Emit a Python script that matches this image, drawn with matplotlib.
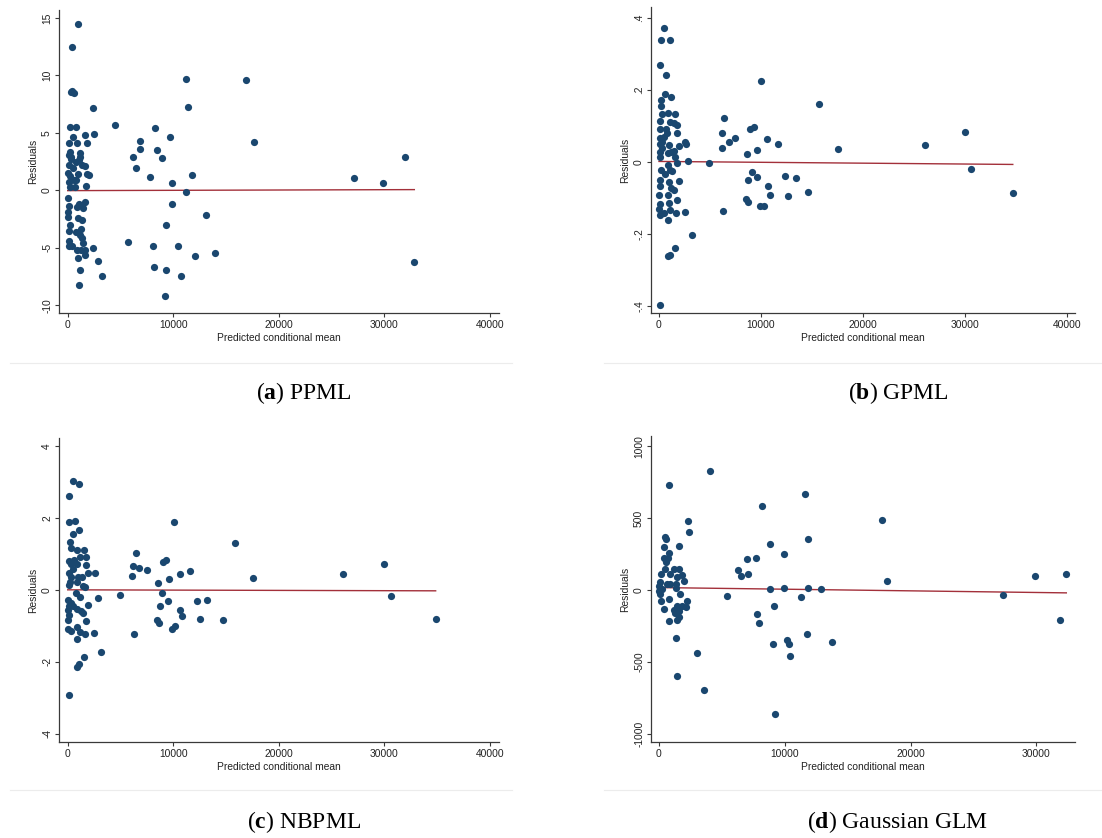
import matplotlib
matplotlib.use("Agg")
import matplotlib.pyplot as plt
import numpy as np

# ------ data (x = predicted conditional mean, y = residual) ------
ppml_x = [1010, 380, 280, 450, 600, 2400, 220, 820, 4480, 1670, 2490, 500, 130, 850, 1800,
          220, 1200, 100, 350, 1040, 790, 160, 1360, 1610, 60, 950, 1860, 1990, 250, 100,
          600, 820, 220, 730, 1700, 60, 130, 1040, 1610, 850, 1450, 60, 0, 950, 1360, 220,
          100, 1260, 820, 1200, 1390, 130, 1480, 100, 410, 880, 1290, 1640, 1610, 2400, 950,
          2900, 1200, 3280, 1100, 280, 540, 1170,
          6160, 6470, 6880, 6880, 7830, 8240, 8490, 8900, 9720, 9880, 11240, 11430, 11740,
          11240, 9880, 13070, 9280, 5710, 8120, 10420, 12090, 13990, 8180, 9340, 10730, 9190,
          16920, 17650, 27150, 29900, 31980, 32830]
ppml_y = [14.44, 12.44, 8.55, 8.62, 8.45, 7.16, 5.48, 5.48, 5.65, 4.81, 4.93, 4.61, 4.12, 4.09, 4.15,
          3.34, 3.28, 3.05, 2.93, 2.64, 2.47, 2.2, 2.2, 2.12, 1.54, 1.42, 1.42, 1.33, 1.25, 0.75,
          0.87, 0.9, 0.26, 0.32, 0.38, -0.67, -1.36, -1.16, -0.99, -1.48, -1.57, -1.89, -2.35, -2.41, -2.58, -3.02,
          -3.54, -3.34, -3.6, -3.86, -4.15, -4.38, -4.55, -4.81, -4.81, -5.22, -5.16, -5.16, -5.6, -5.02, -5.92,
          -6.18, -6.96, -7.48, -8.27, 2.7, 1.9, 2.9,
          2.93, 1.97, 4.32, 3.63, 1.19, 5.42, 3.48, 2.84, 4.67, 0.64, 9.72, 7.22, 1.31,
          -0.14, -1.19, -2.15, -3.02, -4.52, -4.87, -4.84, -5.68, -5.45, -6.7, -6.96, -7.42, -9.22,
          9.63, 4.23, 1.1, 0.64, 2.9, -6.24]

gpml_x = [490, 200, 1110, 130, 650, 560, 1140, 200, 230, 330, 850, 1540, 70, 1110, 1760, 1440,
          130, 650, 820, 1730, 70, 460, 330, 130, 980, 2580, 2650, 1960, 290, 1440, 70, 850,
          1180, 130, 1600, 2810, 1730, 850, 160, 1110, 1310, 560, 70, 1010, 1990, 100, 1210,
          1470, 0, 850, 1800, 130, 950, 0, 1110, 490, 1670, 2520, 70, 920, 3240, 1570, 920,
          1110, 100, 4900, 6140, 6140, 6410, 6860, 7450, 8590, 8920, 9280, 9640, 9970, 10590,
          11700, 6240, 8500, 8690, 8760, 9080, 9580, 9930, 10290, 10650, 10920, 12350, 12650,
          13460, 14580, 15690, 17580, 26050, 30000, 30620, 34710]
gpml_y = [0.371, 0.338, 0.338, 0.27, 0.242, 0.189, 0.18, 0.171, 0.154, 0.134, 0.135, 0.132, 0.112,
          0.11, 0.103, 0.109, 0.09, 0.092, 0.081, 0.079, 0.066, 0.07, 0.056, 0.049, 0.048, 0.056,
          0.049, 0.045, 0.037, 0.031, 0.027, 0.025, 0.026, 0.014, 0.012, 0.002, -0.002, -0.01,
          -0.023, -0.023, -0.026, -0.033, -0.051, -0.057, -0.053, -0.066, -0.072, -0.077, -0.093,
          -0.091, -0.107, -0.116, -0.115, -0.13, -0.133, -0.141, -0.141, -0.139, -0.148, -0.161,
          -0.202, -0.24, -0.261, -0.258, -0.399, -0.004, 0.081, 0.037, 0.123, 0.055, 0.065, 0.021,
          0.091, 0.097, 0.032, 0.224, 0.062, 0.049, -0.136, -0.103, -0.113, -0.051, -0.028, -0.043,
          -0.123, -0.123, -0.066, -0.091, -0.039, -0.096, -0.046, -0.085, 0.16, 0.035, 0.048,
          0.082, -0.021, -0.088]

nbpml_x = [470, 1100, 160, 130, 660, 10040, 1100, 540, 190, 15850, 280, 850, 1550, 6440, 1200,
           1770, 130, 600, 9280, 9000, 29990, 320, 880, 1700, 6160, 470, 6760, 7480, 11590, 130,
           1930, 2590, 10670, 26050, 320, 950, 1360, 6090, 17590, 220, 850, 9630, 8590, 100,
           1450, 1670, 760, 8900, 4960, 30590, 1200, 2900, 60, 280, 9500, 12280, 13230, 1960,
           160, 540, 8740, 920, 0, 1230, 10610, 1420, 100, 10800, 30, 1740, 12570, 14740, 34850,
           8430, 8620, 0, 320, 920, 1140, 1610, 2490, 6250, 9880, 10130, 880, 3190, 1520, 1040,
           920, 100]
nbpml_y = [3.03, 2.94, 2.6, 1.89, 1.91, 1.89, 1.65, 1.56, 1.33, 1.3, 1.17, 1.1, 1.1, 1.02, 0.91,
           0.91, 0.79, 0.84, 0.84, 0.76, 0.73, 0.71, 0.71, 0.7, 0.66, 0.59, 0.6, 0.54, 0.52, 0.46,
           0.46, 0.47, 0.43, 0.44, 0.36, 0.37, 0.37, 0.39, 0.32, 0.22, 0.23, 0.29, 0.19, 0.13,
           0.1, 0.09, -0.08, -0.09, -0.15, -0.17, -0.21, -0.22, -0.27, -0.36, -0.32, -0.3, -0.27,
           -0.42, -0.45, -0.44, -0.45, -0.53, -0.57, -0.58, -0.55, -0.64, -0.71, -0.73, -0.83,
           -0.88, -0.8, -0.84, -0.82, -0.85, -0.93, -1.1, -1.14, -1.03, -1.18, -1.23, -1.2, -1.23,
           -1.09, -1.01, -1.38, -1.74, -1.86, -2.05, -2.14, -2.91]

glm_x = [790, 4070, 2270, 2350, 450, 550, 400, 1580, 770, 420, 710, 580, 480, 1210, 1580, 160,
         900, 1800, 1430, 1950, 110, 630, 900, 0, 1320, 210, 1370, 0, 110, 1690, 820, 160, 2220,
         1800, 2170, 1430, 400, 1160, 1560, 1290, 1580, 1450, 820, 1320, 1450, 3010, 3570, 5440,
         6260, 6550, 7020, 7100, 7740, 7760, 7950, 8190, 8850, 8790, 9140, 9080, 9190, 9960,
         9960, 10140, 10300, 10430, 11280, 11590, 11830, 11880, 11750, 12860, 13730, 17690,
         18140, 27360, 29890, 31870, 32380]
glm_y = [731, 828, 476, 404, 371, 353, 295, 304, 258, 223, 223, 195, 148, 148, 142, 109, 107,
         100, 90, 63, 58, 44, 39, 30, 39, 9, 14, -9, -26, -32, -63, -74, -79, -111, -118, -114,
         -135, -137, -148, -160, -188, -211, -220, -334, -596, -436, -694, -46, 139, 93, 213, 111,
         225, -169, -227, 580, 316, 9, -111, -378, -865, 246, 16, -348, -378, -459, -51, 666, 355,
         16, -304, 9, -362, 487, 65, -39, 97, -211, 107]

# linear fits drawn through each cloud: (intercept, slope)
fits = [(-0.03, 2.7e-6), (0.001, -2.4e-7), (0.0, -8.0e-7), (16.0, -1.14e-3)]

captions = [("a", "PPML"), ("b", "GPML"), ("c", "NBPML"), ("d", "Gaussian GLM")]
tick_vals = [[15, 10, 5, 0, -5, -10], [0.4, 0.2, 0, -0.2, -0.4],
             [4, 2, 0, -2, -4], [1000, 500, 0, -500, -1000]]
tick_text = [["15", "10", "5", "0", "-5", "-10"], [".4", ".2", "0", "-.2", "-.4"],
             ["4", "2", "0", "-2", "-4"], ["1000", "500", "0", "-500", "-1000"]]
xtick_vals = [[0, 10000, 20000, 30000, 40000]] * 3 + [[0, 10000, 20000, 30000]]

xs = [ppml_x, gpml_x, nbpml_x, glm_x]
ys = [ppml_y, gpml_y, nbpml_y, glm_y]

W, H = 1102, 838
plt.rcParams['mathtext.fontset'] = 'custom'
plt.rcParams['mathtext.rm'] = 'Liberation Serif'
plt.rcParams['mathtext.bf'] = 'Liberation Serif:bold'

fig = plt.figure(figsize=(W / 100, H / 100), dpi=100)

# pixel boxes (left, top, right, bottom) of each plot region
boxes = [(59, 10, 499, 313), (651, 7, 1075, 313), (59, 438, 499, 742), (651, 436, 1075, 742)]
xlims = [(-824, 40850), (-784, 40814), (-824, 40850), (-634, 33070)]
ylims = [(-10.68, 15.69), (-0.42, 0.43), (-4.23, 4.22), (-1058, 1070)]

navy = '#1a476f'
maroon = '#a3303a'
axc = '#3a3a3a'

for i in range(4):
    l, t, r, b = boxes[i]
    ax = fig.add_axes([l / W, 1 - b / H, (r - l) / W, (b - t) / H])
    ax.scatter(xs[i], ys[i], s=27, color=navy, linewidths=0, zorder=3)
    x0, x1 = min(xs[i]), max(xs[i])
    c, m = fits[i]
    ax.plot([x0, x1], [c + m * x0, c + m * x1], color=maroon, lw=1.0, zorder=2)
    ax.set_xlim(xlims[i])
    ax.set_ylim(ylims[i])
    ax.set_yticks(tick_vals[i])
    ax.set_yticklabels(tick_text[i], rotation=90, va='center')
    ax.set_xticks(xtick_vals[i])
    ax.set_xticklabels([str(v) for v in xtick_vals[i]])
    for s in ['top', 'right']:
        ax.spines[s].set_visible(False)
    for s in ['left', 'bottom']:
        ax.spines[s].set_color(axc)
        ax.spines[s].set_linewidth(0.9)
    ax.tick_params(length=3, width=0.8, color=axc, labelsize=7.4, pad=2,
                   labelcolor='#222222')
    for lab in ax.get_xticklabels() + ax.get_yticklabels():
        lab.set_family('Liberation Sans')
    ax.set_xlabel('Predicted conditional mean', fontsize=7.4, family='Liberation Sans',
                  color='#222222', labelpad=2)
    ax.set_ylabel('Residuals', fontsize=7.4, family='Liberation Sans', color='#222222',
                  labelpad=3)

# thin separators and sub-captions
for yline, ycap, row in [(363, 393, 0), (790, 822, 1)]:
    for (xa, xb) in [(10, 512), (604, 1102)]:
        fig.add_artist(plt.Line2D([xa / W, xb / W], [1 - yline / H] * 2, color='#ececec',
                                  lw=0.8))
    for k, xc in enumerate([304, 898]):
        letter, name = captions[row * 2 + k]
        fig.text(xc / W, 1 - ycap / H, r'($\mathbf{%s}$) %s' % (letter, name),
                 ha='center', va='center', fontsize=17, family='Liberation Serif')

fig.savefig('out.png', dpi=100)
